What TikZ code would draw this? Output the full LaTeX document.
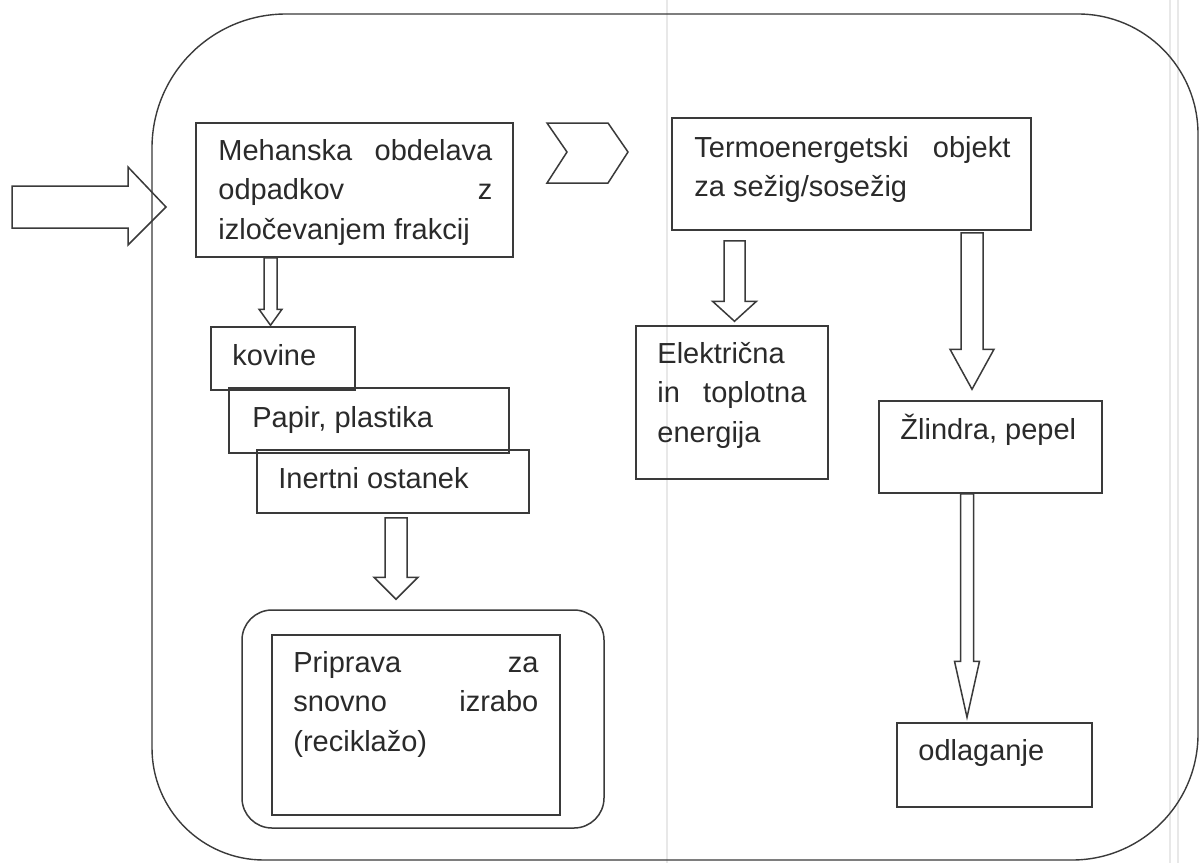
\documentclass[tikz,border=0pt]{standalone}
\usepackage{fontspec}
\setmainfont{Liberation Sans}
\usetikzlibrary{calc}
\definecolor{ink}{HTML}{3A3A3A}
\definecolor{txtc}{HTML}{2A2A2A}
\definecolor{scan}{HTML}{E8E8E8}
% block arrow pointing down: from node #1 to node #2, centre x #3,
% half shaft #4, half head #5, head length #6, start gap #7, end gap #8
\newcommand{\blkdown}[8]{%
  \draw[blk] ($(#3-#4,0|-#1.south)+(0,#7)$)
    -- ($(#3-#4,0|-#2.north)+(0,-#6-#8)$)
    -- ($(#3-#5,0|-#2.north)+(0,-#6-#8)$)
    -- ($(#3,0|-#2.north)+(0,-#8)$)
    -- ($(#3+#5,0|-#2.north)+(0,-#6-#8)$)
    -- ($(#3+#4,0|-#2.north)+(0,-#6-#8)$)
    -- ($(#3+#4,0|-#1.south)+(0,#7)$) -- cycle;}
\begin{document}
\begin{tikzpicture}[x=0.5pt,y=-0.5pt,
  line join=miter,
  frame/.style={draw=ink,line width=0.7pt},
  box/.style={draw=ink,line width=0.75pt,inner sep=0pt},
  blk/.style={draw=ink,line width=0.75pt},
  txt/.style={anchor=base west,inner sep=0pt,text=txtc,font=\fontsize{14.5}{19.8}\selectfont},
  scanline/.style={draw=scan,line width=0.8pt}]
\useasboundingbox (0,0) rectangle (1199,863);
\fill[white] (0,0) rectangle (1199,863);

% faint scan lines of the page (behind everything)
\draw[scanline] (667,0) -- (667,863);
\draw[scanline] (1170,0) -- (1170,863);
\draw[scanline] (1178,0) -- (1178,863);

% outer rounded frame
\draw[frame] (152,400) [rounded corners=67pt] |- (700,14)
  [rounded corners=60pt] -| (1198,400)
  [rounded corners=63pt] |- (700,860)
  [rounded corners=56pt] -| (152,400) -- cycle;

% input arrow
\coordinate (inS) at (12,207);
\coordinate (inT) at (166,207);
\draw[blk] (12,186) -- (128,186) -- (128,167) -- (inT) -- (128,245) -- (128,228) -- (12,228) -- cycle;

% boxes
\node[box,minimum width=158.5pt,minimum height=67pt] (meh) at (354.5,190) {};
\node[box,minimum width=179.5pt,minimum height=56pt] (termo) at (851.5,174) {};
\node[box,minimum width=72pt,minimum height=31.5pt] (kov) at (283,358.5) {};
\node[box,minimum width=140pt,minimum height=32.5pt] (pap) at (369,420.5) {};
\node[box,minimum width=136pt,minimum height=31.5pt] (ine) at (393,481.5) {};
\node[box,minimum width=96pt,minimum height=76.5pt] (ele) at (732,402.5) {};
\node[box,minimum width=111.5pt,minimum height=46pt] (zli) at (990.5,447) {};
\node[box,minimum width=97.5pt,minimum height=42pt] (odl) at (994.5,765) {};
\node[box,rounded corners=15pt,minimum width=181pt,minimum height=109pt] (pripO) at (423,719) {};
\node[box,minimum width=144pt,minimum height=90pt] (pripI) at (416,725) {};

% chevron between the two top boxes
\draw[blk] (547,123) -- (608,123) -- (628,152) -- (608,183) -- (547,183) -- (567,152) -- cycle;

% texts
\node[txt] (mehT) at (218,160) {\parbox[t]{137pt}{\makebox[137pt][s]{Mehanska obdelava}\\\makebox[137pt][s]{odpadkov z}\\izločevanjem frakcij}};
\node[txt] (termoT) at (694,157) {\parbox[t]{158pt}{\makebox[158pt][s]{Termoenergetski objekt}\\za sežig/sosežig}};
\node[txt] (kovT) at (232,365) {kovine};
\node[txt] (papT) at (252,427) {Papir, plastika};
\node[txt] (ineT) at (278,488) {Inertni ostanek};
\node[txt] (eleT) at (657,363) {\parbox[t]{74.5pt}{Električna\\\makebox[74.5pt][s]{in toplotna}\\energija}};
\node[txt] (zliT) at (900,439) {Žlindra, pepel};
\node[txt] (odlT) at (918,760) {odlaganje};
\node[txt] (pripT) at (293,672) {\parbox[t]{122.5pt}{\makebox[122.5pt][s]{Priprava za}\\\makebox[122.5pt][s]{snovno izrabo}\\(reciklažo)}};

% block arrows
\blkdown{meh}{kov}{270.5}{6.5}{11.5}{16}{0}{1}
\blkdown{ine}{pripO}{396}{11}{22}{22}{4}{10}
\blkdown{termo}{ele}{734.5}{10.5}{22}{20}{10}{4}
\blkdown{termo}{zli}{972}{11}{22}{40}{2}{11}
\blkdown{zli}{odl}{967}{6.5}{12.5}{56}{0}{5}
\end{tikzpicture}
\end{document}
